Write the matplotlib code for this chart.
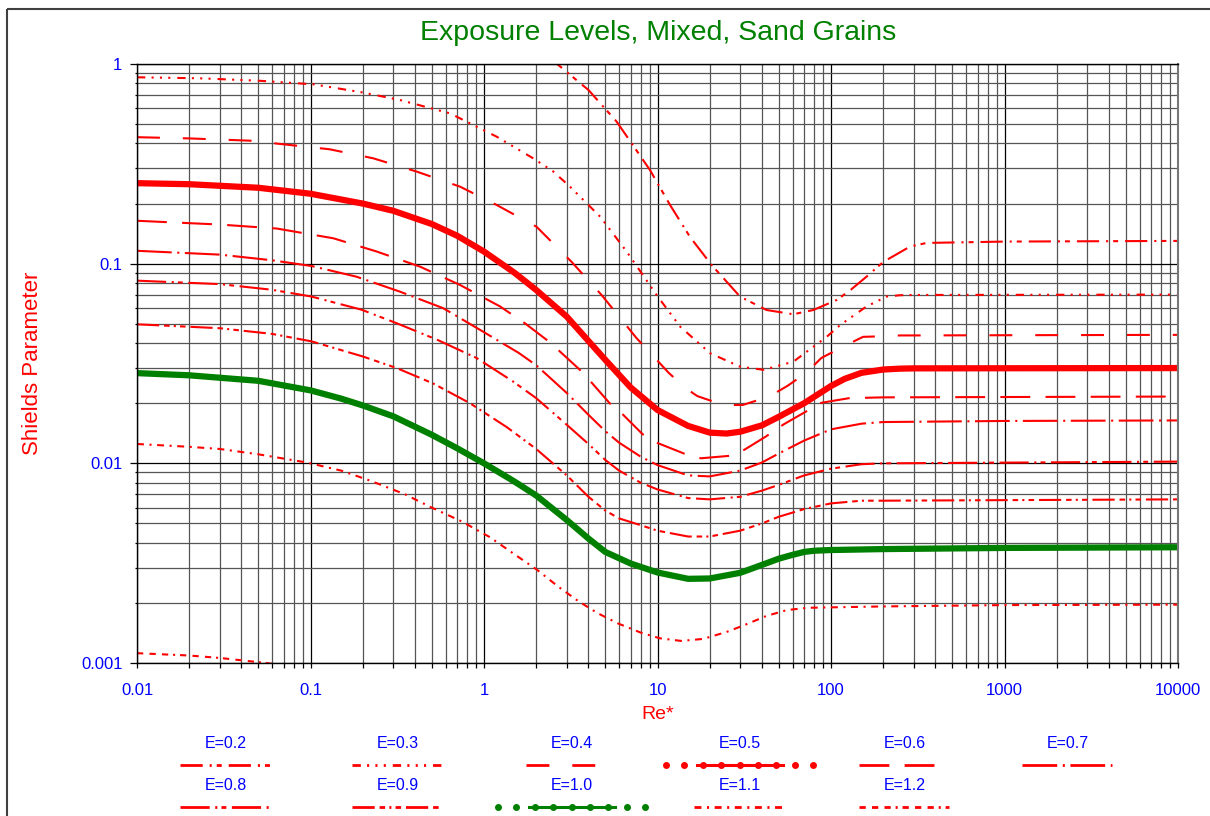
import matplotlib
matplotlib.use("Agg")
import matplotlib.pyplot as plt
from matplotlib.patches import Rectangle

plt.rcParams['font.family'] = ['Liberation Sans', 'DejaVu Sans']
plt.rcParams['lines.scale_dashes'] = False

RED = '#FF0000'
GREEN = '#008000'
BLUE = '#0000FF'

# ---------------- data ----------------
labels = ['E=0.2', 'E=0.3', 'E=0.4', 'E=0.5', 'E=0.6', 'E=0.7',
          'E=0.8', 'E=0.9', 'E=1.0', 'E=1.1', 'E=1.2']

e02_x = [2.3, 2.64, 4.0, 5.82, 9.06, 11.8, 15.4, 20.5, 29.9, 42.5, 60.7, 79, 108, 130, 160, 200, 285, 355, 1000, 10000]
e02_y = [1.15, 1.0, 0.741, 0.514, 0.294, 0.197, 0.136, 0.0985, 0.0684, 0.0586, 0.0558, 0.0586, 0.0658, 0.074, 0.086, 0.102, 0.1217, 0.127, 0.129, 0.13]

e03_x = [0.01, 0.023, 0.05, 0.104, 0.2, 0.328, 0.637, 1.18, 1.92, 2.5, 3.13, 4.67, 6.64, 9.88, 13.5, 20.1, 29.9, 40.8, 60.7, 94.4, 113, 160, 209, 250, 300, 10000]
e03_y = [0.858, 0.848, 0.825, 0.791, 0.72, 0.66, 0.566, 0.433, 0.337, 0.29, 0.243, 0.172, 0.115, 0.0697, 0.0484, 0.0356, 0.0305, 0.0294, 0.0323, 0.043, 0.0493, 0.061, 0.0684, 0.0695, 0.0697, 0.07]

e04_x = [0.01, 0.02, 0.0448, 0.129, 0.23, 0.41, 0.728, 1.18, 2.01, 3.2, 4.76, 7.55, 11.6, 14.5, 17, 24, 31, 44, 56, 72, 88, 118, 153, 200, 250, 10000]
e04_y = [0.430, 0.424, 0.413, 0.374, 0.337, 0.289, 0.243, 0.197, 0.153, 0.102, 0.0697, 0.0425, 0.0284, 0.0238, 0.0217, 0.0196, 0.0196, 0.0216, 0.0244, 0.0284, 0.0337, 0.0385, 0.043, 0.0433, 0.0437, 0.044]

e05_x = [0.01, 0.02, 0.05, 0.1, 0.2, 0.3, 0.5, 0.7, 1, 1.5, 2, 3, 4, 5, 7, 10, 15, 20, 25, 30, 40, 50, 70, 100, 120, 150, 200, 250, 300, 10000]
e05_y = [0.253, 0.250, 0.240, 0.224, 0.200, 0.184, 0.158, 0.138, 0.115, 0.090, 0.0738, 0.0543, 0.041, 0.033, 0.024, 0.0185, 0.0154, 0.01425, 0.0141, 0.0144, 0.0155, 0.0171, 0.020, 0.0244, 0.0265, 0.0284, 0.0295, 0.0298, 0.0299, 0.030]

e06_x = [0.01, 0.03, 0.0638, 0.1355, 0.241, 0.428, 0.728, 1.24, 1.72, 2.3, 2.74, 3.57, 4.2, 5.3, 6.3, 8.2, 10.1, 14.2, 17.8, 25.9, 31.7, 42, 53.5, 72, 88, 127, 200, 10000]
e06_y = [0.164, 0.157, 0.150, 0.134, 0.115, 0.0966, 0.0782, 0.061, 0.0503, 0.0415, 0.0363, 0.0294, 0.0252, 0.020, 0.0176, 0.014, 0.0126, 0.0112, 0.0106, 0.0109, 0.0117, 0.0136, 0.0157, 0.0182, 0.0201, 0.0212, 0.0214, 0.0216]

e07_x = [0.01, 0.03, 0.06, 0.1016, 0.1845, 0.328, 0.583, 0.949, 1.58, 2, 3, 4, 5, 6, 8, 10, 15, 20, 30, 40, 50, 70, 100, 150, 200, 1000, 10000]
e07_y = [0.116, 0.111, 0.104, 0.0973, 0.086, 0.0724, 0.0598, 0.0466, 0.0358, 0.031, 0.0225, 0.0175, 0.0145, 0.0127, 0.0108, 0.0098, 0.0087, 0.0086, 0.0092, 0.0101, 0.0112, 0.013, 0.0148, 0.0158, 0.0161, 0.0163, 0.0164]

e08_x = [0.01, 0.03, 0.06, 0.1016, 0.197, 0.314, 0.54, 0.906, 1.47, 2, 3, 4, 5, 6, 8, 10, 15, 20, 30, 40, 50, 70, 100, 150, 200, 10000]
e08_y = [0.0822, 0.079, 0.074, 0.0684, 0.0588, 0.0503, 0.0415, 0.0337, 0.0257, 0.0212, 0.0156, 0.0125, 0.0104, 0.0092, 0.0080, 0.0074, 0.0067, 0.0066, 0.0068, 0.0073, 0.0078, 0.0087, 0.0094, 0.0099, 0.0100, 0.0102]

e09_x = [0.01, 0.03, 0.06, 0.1016, 0.20, 0.314, 0.51, 0.83, 1.35, 2, 3, 4, 5, 6, 8, 10, 15, 20, 30, 40, 50, 70, 100, 150, 200, 10000]
e09_y = [0.0497, 0.0475, 0.0445, 0.0408, 0.0343, 0.030, 0.0251, 0.020, 0.0152, 0.0118, 0.0087, 0.0068, 0.0058, 0.0053, 0.0049, 0.0046, 0.0043, 0.0043, 0.0046, 0.0050, 0.0054, 0.0059, 0.0063, 0.0065, 0.0065, 0.0066]

e10_x = [0.01, 0.02, 0.05, 0.1, 0.15, 0.2, 0.3, 0.5, 0.7, 1, 1.5, 2, 3, 4, 5, 7, 10, 15, 20, 30, 40, 50, 60, 70, 80, 100, 200, 1000, 10000]
e10_y = [0.0283, 0.0276, 0.0259, 0.0232, 0.0211, 0.0195, 0.0172, 0.0139, 0.0119, 0.0100, 0.0081, 0.0069, 0.0052, 0.0042, 0.0036, 0.00315, 0.00284, 0.00264, 0.00265, 0.00283, 0.0031, 0.00333, 0.00348, 0.0036, 0.00365, 0.00368, 0.00372, 0.00377, 0.0038]

e11_x = [0.01, 0.02, 0.03, 0.05, 0.095, 0.15, 0.22, 0.35, 0.50, 0.75, 1.08, 1.5, 2.0, 2.7, 3.5, 4.5, 5.9, 8, 10.3, 13.7, 18.3, 25, 31.8, 42.4, 55.5, 73, 101, 200, 1000, 10000]
e11_y = [0.0125, 0.0121, 0.0118, 0.0111, 0.0101, 0.0092, 0.0082, 0.0070, 0.0060, 0.0051, 0.00427, 0.0035, 0.00295, 0.0024, 0.00204, 0.00178, 0.00158, 0.00142, 0.00133, 0.00129, 0.00132, 0.00143, 0.00155, 0.00172, 0.00184, 0.00189, 0.0019, 0.00192, 0.00195, 0.00196]

e12_x = [0.01, 0.02, 0.03, 0.045, 0.0558, 0.07]
e12_y = [0.00112, 0.00109, 0.00106, 0.00102, 0.00100, 0.00097]

xs = [e02_x, e03_x, e04_x, e05_x, e06_x, e07_x, e08_x, e09_x, e10_x, e11_x, e12_x]
ys = [e02_y, e03_y, e04_y, e05_y, e06_y, e07_y, e08_y, e09_y, e10_y, e11_y, e12_y]

x_ticks = [0.01, 0.1, 1, 10, 100, 1000, 10000]
x_tick_labels = ['0.01', '0.1', '1', '10', '100', '1000', '10000']
y_ticks = [0.001, 0.01, 0.1, 1]
y_tick_labels = ['0.001', '0.01', '0.1', '1']

# ---------------- styles ----------------
styles = [
    dict(color=RED, lw=1.5, ls=(0, (16, 5, 1.5, 3.6, 3.6, 5))),
    dict(color=RED, lw=1.5, ls=(0, (6, 4.5, 1.5, 4.5, 1.5, 4.5, 1.5, 5))),
    dict(color=RED, lw=1.5, ls=(0, (16.5, 16.5))),
    dict(color=RED, lw=4.5, ls='-'),
    dict(color=RED, lw=1.5, ls=(0, (21.5, 11))),
    dict(color=RED, lw=1.5, ls=(0, (25, 4, 1.5, 4))),
    dict(color=RED, lw=1.5, ls=(0, (21, 4, 1.5, 3, 3.5, 4))),
    dict(color=RED, lw=1.5, ls=(0, (16, 3.5, 4, 3, 1.5, 3, 4, 3.5))),
    dict(color=GREEN, lw=4.5, ls='-'),
    dict(color=RED, lw=1.5, ls=(0, (5, 4, 1.5, 4))),
    dict(color=RED, lw=1.5, ls=(0, (4.5, 4.5, 4.5, 4.5, 4.5, 3.5, 1.5, 3.5))),
]

W, H = 1210, 816
fig = plt.figure(figsize=(W / 100, H / 100), dpi=100)
L, R, T, B = 137, 1178, 64, 663
ax = fig.add_axes([L / W, 1 - B / H, (R - L) / W, (B - T) / H])
ax.set_xscale('log')
ax.set_yscale('log')
ax.set_xlim(0.01, 10000)
ax.set_ylim(0.001, 1)

ax.grid(True, which='major', color='black', lw=0.9)
ax.grid(True, which='minor', color='#555555', lw=0.9)
ax.set_axisbelow(True)

for x, y, st in zip(xs, ys, styles):
    ax.plot(x, y, color=st['color'], lw=st['lw'], linestyle=st['ls'],
            solid_capstyle='round', dash_capstyle='butt', solid_joinstyle='round',
            dash_joinstyle='round')

ax.set_xticks(x_ticks)
ax.set_xticklabels(x_tick_labels)
ax.set_yticks(y_ticks)
ax.set_yticklabels(y_tick_labels)
ax.tick_params(axis='both', which='major', labelsize=12, labelcolor=BLUE, color='black', width=0.9)
ax.tick_params(axis='x', which='major', length=3.6, pad=10.5)
ax.tick_params(axis='y', which='major', length=5, pad=5.5)
ax.tick_params(axis='x', which='minor', length=3.6, width=0.9, color='black')
ax.tick_params(axis='y', which='minor', length=1.5, width=0.9, color='black')
for sp in ax.spines.values():
    sp.set_color('black')
    sp.set_linewidth(1.0)
ax.spines['right'].set_color('#777777')
ax.spines['right'].set_linewidth(1.5)

ax.set_xlabel('Re*', color=RED, fontsize=14, labelpad=6)
ax.set_ylabel('Shields Parameter', color=RED, fontsize=16, labelpad=27)
fig.text(658 / W, 1 - 33 / H, 'Exposure Levels, Mixed, Sand Grains', color=GREEN,
         fontsize=20.5, ha='center', va='center')

# ---------------- legend (drawn in pixel coordinates) ----------------
ov = fig.add_axes([0, 0, 1, 1], facecolor='none')
ov.set_xlim(0, W)
ov.set_ylim(H, 0)
ov.axis('off')

ov.add_patch(Rectangle((7, 9), W + 20, H + 20, fill=False, ec='#404040', lw=1.5))

leg_cx = [226, 398, 572, 740, 905, 1068, 226, 398, 572, 740, 905]
leg_row = [0, 0, 0, 0, 0, 0, 1, 1, 1, 1, 1]
for i, (lab, st) in enumerate(zip(labels, styles)):
    cx = leg_cx[i]
    r = leg_row[i]
    ty = 744 + 42 * r
    ly = 765 + 42 * r
    ov.text(cx, ty, lab, color=BLUE, fontsize=11.5, ha='center', va='center')
    if st['ls'] == '-':
        ov.plot([cx - 43, cx + 43], [ly, ly], color=st['color'], lw=2.2)
        n = 9
        xs_m = [cx - 74 + k * 18.4 for k in range(n)]
        ov.plot(xs_m, [ly] * n, ls='none', marker='o', ms=4, color=st['color'])
    else:
        ov.plot([cx - 46, cx + 44], [ly, ly], color=st['color'], lw=2.0,
                linestyle=st['ls'], dash_capstyle='butt')

fig.savefig('out.png', dpi=100)
